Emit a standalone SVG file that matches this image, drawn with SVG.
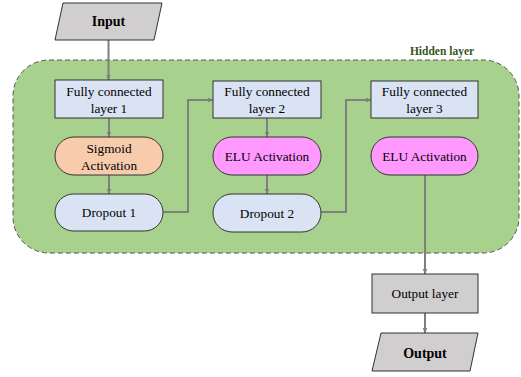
<svg xmlns="http://www.w3.org/2000/svg" width="521" height="377" viewBox="0 0 521 377">
<defs>
<marker id="ah" viewBox="0 0 10 10" refX="9" refY="5" markerWidth="6" markerHeight="6" orient="auto" markerUnits="userSpaceOnUse"><path d="M0,1 L10,5 L0,9 z" fill="#7f7f7f"/></marker>
<style>
text{font-family:'Liberation Serif','Times New Roman',Times,serif}
.t{font-size:13.3px;fill:#000;text-anchor:middle;dominant-baseline:central}
.b{font-weight:bold;font-size:14px}
.fc{fill:#dae3f3;stroke:#333;stroke-width:1}
.gr{fill:#d0cece;stroke:#333;stroke-width:1}
.sg{fill:#f8cbad;stroke:#333;stroke-width:1}
.el{fill:#ff99ff;stroke:#333;stroke-width:1}
.c{fill:none;stroke:#7f7f7f;stroke-width:2;marker-end:url(#ah)}
</style>
</defs>
<rect width="521" height="377" fill="#fff"/>
<g id="hidden">
<rect x="13" y="60" width="506" height="193" rx="36" ry="36" fill="#a9d18e" stroke="#555" stroke-width="1" stroke-dasharray="5,3"/>
<text x="442" y="51" class="t" font-family="Liberation Serif, serif" style="font-weight:bold;font-size:11.5px;fill:#375623">Hidden layer</text>
</g>
<g id="connectors">
<path class="c" d="M108.5,40 V80"/>
<path class="c" d="M109,118 V137"/>
<path class="c" d="M109,175 V194"/>
<path class="c" d="M163,212 H188 V100 H213"/>
<path class="c" d="M267,118 V137"/>
<path class="c" d="M267,175 V194"/>
<path class="c" d="M321,212 H346 V100 H371"/>
<path class="c" d="M425,175 V274"/>
<path class="c" d="M425,313 V333"/>
</g>
<g id="input"><polygon class="gr" points="63,3 162,3 154,40 55,40"/><text x="108.5" y="21.5" class="t b" font-family="Liberation Serif, serif">Input</text></g>
<g id="fc1"><rect class="fc" x="55" y="80" width="108" height="38"/><text x="109" y="91" class="t" font-family="Liberation Serif, serif">Fully connected</text><text x="109" y="108" class="t" font-family="Liberation Serif, serif">layer 1</text></g>
<g id="sigmoid"><rect class="sg" x="55" y="137" width="108" height="38" rx="19"/><text x="109" y="148" class="t" font-family="Liberation Serif, serif">Sigmoid</text><text x="109" y="165" class="t" font-family="Liberation Serif, serif">Activation</text></g>
<g id="dropout1"><rect class="fc" x="55" y="194" width="108" height="37" rx="18.5"/><text x="109" y="212.5" class="t" font-family="Liberation Serif, serif">Dropout 1</text></g>
<g id="fc2"><rect class="fc" x="213" y="81" width="108" height="37"/><text x="267" y="91" class="t" font-family="Liberation Serif, serif">Fully connected</text><text x="267" y="108" class="t" font-family="Liberation Serif, serif">layer 2</text></g>
<g id="elu2"><rect class="el" x="213" y="137" width="108" height="38" rx="19"/><text x="267" y="156" class="t" font-family="Liberation Serif, serif">ELU Activation</text></g>
<g id="dropout2"><rect class="fc" x="213" y="194" width="108" height="38" rx="19"/><text x="267" y="213" class="t" font-family="Liberation Serif, serif">Dropout 2</text></g>
<g id="fc3"><rect class="fc" x="371" y="81" width="107" height="37"/><text x="424.5" y="91" class="t" font-family="Liberation Serif, serif">Fully connected</text><text x="424.5" y="108" class="t" font-family="Liberation Serif, serif">layer 3</text></g>
<g id="elu3"><rect class="el" x="371" y="137" width="107" height="38" rx="19"/><text x="424.5" y="156" class="t" font-family="Liberation Serif, serif">ELU Activation</text></g>
<g id="outlayer"><rect class="gr" x="372" y="274" width="106" height="39"/><text x="425" y="293.5" class="t" font-family="Liberation Serif, serif">Output layer</text></g>
<g id="output"><polygon class="gr" points="381,333 478,333 470,371 372,371"/><text x="425" y="353" class="t b" font-family="Liberation Serif, serif">Output</text></g>
</svg>
